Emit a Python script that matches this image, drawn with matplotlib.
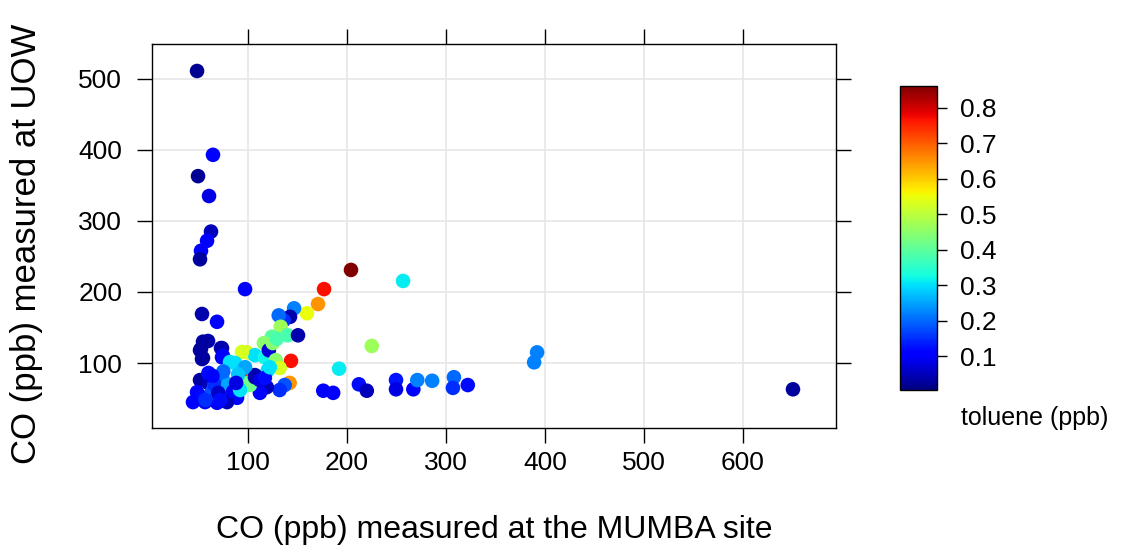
import matplotlib.pyplot as plt
import matplotlib as mpl
import numpy as np

plt.rcParams['font.family'] = ['Liberation Sans', 'DejaVu Sans']

# CO at MUMBA site (ppb), CO at UOW (ppb), toluene (ppb)
co_mumba = [48.5, 64.6, 49.5, 60.6, 62.6, 58.6, 52.5, 51.5, 97, 53.5, 68.7,
            59.6, 52.5, 73.7, 53.5, 73.7,
            176.8, 204, 256.6, 170.7, 159.6, 146.5, 142.4, 136, 131,
            133, 140, 150.5, 124, 116, 99, 107, 117, 121, 128, 143.4, 132,
            120, 95, 102, 107, 94, 142, 137, 132, 119, 112, 107, 112, 100,
            54.5, 51.5, 54.5, 72.7, 74.7, 93.9, 81.8, 86.9, 97, 102, 107,
            112, 117, 122, 125, 129,
            51.5, 59.6, 48.5, 53.5, 61.6, 69.7, 71.7, 74.7, 65.6, 76.8,
            84.8, 88.9, 78.8, 56.6, 44.4, 68.7, 63.6, 66, 80, 90, 85, 70,
            75, 60, 57, 92, 88, 72, 64,
            225, 192, 176, 186, 212, 220, 249.5, 249.5, 267, 271, 286,
            308, 307, 322, 392, 389, 650.5]
co_uow = [511, 393, 363, 335, 285, 272, 258, 246, 204, 169, 158,
          131, 120, 121, 105.6, 108,
          204, 231, 215.5, 183, 170, 177, 165, 160, 167,
          151, 139, 139, 137, 128, 115, 111, 108, 118, 104, 103, 93,
          90, 93, 83, 83, 76, 72, 69, 62, 66, 73, 80, 58, 72,
          130, 118, 107, 121, 110, 115.5, 101.4, 100, 94, 69, 80,
          76, 79, 94, 128, 134,
          76, 72, 59, 52, 52, 65, 80, 76, 65, 52,
          65, 51, 45, 45, 45, 44, 59, 70, 70, 84, 60, 58,
          88, 86, 48, 62, 72, 48, 82,
          124, 92, 61, 58, 70, 61, 76, 63, 63, 76, 75,
          80, 65, 69, 115, 101, 63]
toluene = [0.02, 0.1, 0.02, 0.08, 0.05, 0.1, 0.1, 0.03, 0.1, 0.04, 0.1,
           0.04, 0.03, 0.04, 0.04, 0.09,
           0.77, 0.86, 0.31, 0.65, 0.55, 0.22, 0.04, 0.15, 0.2,
           0.47, 0.38, 0.04, 0.4, 0.45, 0.53, 0.3, 0.32, 0.07, 0.45, 0.77, 0.53,
           0.3, 0.28, 0.38, 0.04, 0.77, 0.65, 0.18, 0.15, 0.05, 0.05, 0.04, 0.1, 0.42,
           0.03, 0.03, 0.03, 0.04, 0.1, 0.53, 0.3, 0.3, 0.25, 0.42, 0.04,
           0.08, 0.12, 0.3, 0.45, 0.38,
           0.03, 0.05, 0.1, 0.12, 0.1, 0.05, 0.1, 0.2, 0.22, 0.15,
           0.2, 0.1, 0.05, 0.1, 0.1, 0.1, 0.18, 0.15, 0.25, 0.28, 0.1, 0.06,
           0.2, 0.12, 0.15, 0.3, 0.08, 0.12, 0.1,
           0.47, 0.31, 0.1, 0.1, 0.12, 0.05, 0.13, 0.08, 0.1, 0.22, 0.22,
           0.2, 0.15, 0.12, 0.22, 0.22, 0.03]

fig = plt.figure(figsize=(11.21, 5.54), dpi=100)
ax = fig.add_axes([0.1356, 0.2274, 0.6102, 0.6932])

norm = mpl.colors.Normalize(vmin=0.005, vmax=0.862)
sc = ax.scatter(co_mumba, co_uow, c=toluene, cmap='jet', norm=norm,
                s=110, edgecolors='none', zorder=3)

ax.set_xlim(3, 694)
ax.set_ylim(8.5, 549)
ax.set_xticks([100, 200, 300, 400, 500, 600])
ax.set_yticks([100, 200, 300, 400, 500])
ax.grid(True, color='#e6e6e6', linewidth=1.2, zorder=0)
ax.tick_params(direction='out', length=10.5, width=1, labelsize=19,
               top=True, right=True, labeltop=False, labelright=False)
ax.tick_params(axis='x', pad=6)
ax.tick_params(axis='y', pad=11)
for sp in ax.spines.values():
    sp.set_linewidth(1)
ax.set_xlabel('CO (ppb) measured at the MUMBA site', fontsize=23, va='center')
ax.set_ylabel('CO (ppb) measured at UOW', fontsize=25, va='center')
ax.xaxis.set_label_coords(0.5, -0.266)
ax.yaxis.set_label_coords(-0.183, 0.48)

cax = fig.add_axes([0.803, 0.296, 0.033, 0.549])
cb = fig.colorbar(sc, cax=cax)
cb.set_ticks([0.1, 0.2, 0.3, 0.4, 0.5, 0.6, 0.7, 0.8])
cb.ax.tick_params(direction='out', length=7.5, width=1, labelsize=19, pad=9)
cb.outline.set_linewidth(1)
fig.text(0.857, 0.245, 'toluene (ppb)', fontsize=18, va='center')

fig.savefig('out.png', dpi=100)
